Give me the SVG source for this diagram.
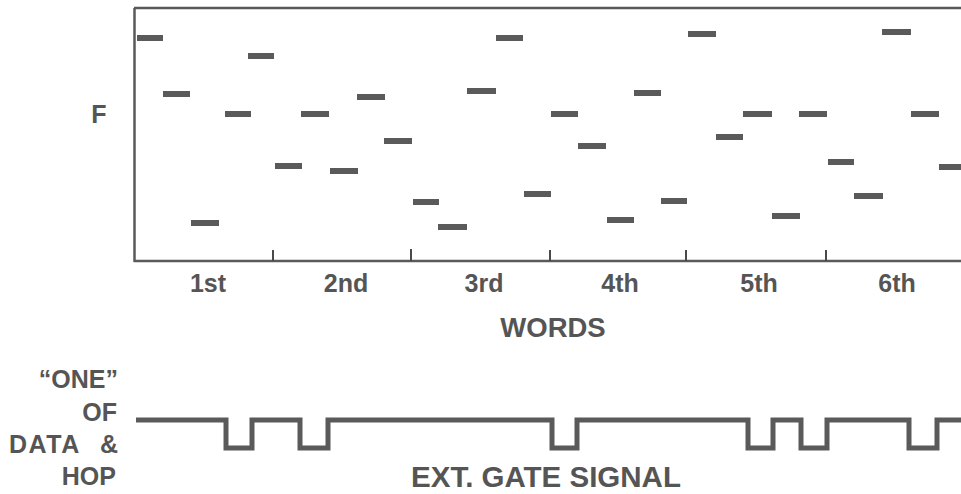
<svg xmlns="http://www.w3.org/2000/svg" width="961" height="494" viewBox="0 0 961 494">
<style>
.ax{stroke:#5a5a5a;stroke-width:2.5;fill:none}
.tk{stroke:#4a4a4a;stroke-width:2;fill:none}
.b{fill:#5a5a5a}
.t{font-family:"Liberation Sans",Arial,sans-serif;font-weight:bold;fill:#555;font-size:25px}
.sig{stroke:#5a5a5a;stroke-width:5;fill:none;stroke-linejoin:miter}
</style>
<rect width="961" height="494" fill="#fff"/>
<g id="frame">
<path class="ax" d="M134 8 H961 M134.5 8 V262 M134 261 H961"/>
<path class="tk" d="M273 250 V261 M411 249 V261 M550 250 V261 M686 250 V261 M826 250 V261"/>
</g>
<g id="bars">
<rect class="b" x="137" y="35" width="26" height="6"/>
<rect class="b" x="163" y="91" width="27" height="6"/>
<rect class="b" x="191" y="220" width="28" height="6"/>
<rect class="b" x="225" y="111" width="26" height="6"/>
<rect class="b" x="248" y="53" width="26" height="6"/>
<rect class="b" x="275" y="163" width="27" height="6"/>
<rect class="b" x="301" y="111" width="28" height="6"/>
<rect class="b" x="330" y="168" width="28" height="6"/>
<rect class="b" x="357" y="94" width="28" height="6"/>
<rect class="b" x="384" y="138" width="28" height="6"/>
<rect class="b" x="413" y="199" width="26" height="6"/>
<rect class="b" x="438" y="224" width="29" height="6"/>
<rect class="b" x="467" y="88" width="29" height="6"/>
<rect class="b" x="496" y="35" width="27" height="6"/>
<rect class="b" x="524" y="191" width="27" height="6"/>
<rect class="b" x="551" y="111" width="27" height="6"/>
<rect class="b" x="578" y="143" width="28" height="6"/>
<rect class="b" x="607" y="217" width="27" height="6"/>
<rect class="b" x="634" y="90" width="27" height="6"/>
<rect class="b" x="661" y="198" width="26" height="6"/>
<rect class="b" x="688" y="31" width="28" height="6"/>
<rect class="b" x="716" y="134" width="27" height="6"/>
<rect class="b" x="743" y="111" width="29" height="6"/>
<rect class="b" x="772" y="213" width="28" height="6"/>
<rect class="b" x="799" y="111" width="28" height="6"/>
<rect class="b" x="828" y="159" width="26" height="6"/>
<rect class="b" x="854" y="193" width="29" height="6"/>
<rect class="b" x="882" y="29" width="29" height="6"/>
<rect class="b" x="911" y="111" width="28" height="6"/>
<rect class="b" x="939" y="164" width="27" height="6"/>
</g>
<g id="labels">
<text class="t" x="99" y="123" text-anchor="middle">F</text>
<text class="t" x="208" y="292" text-anchor="middle">1st</text>
<text class="t" x="346" y="292" text-anchor="middle">2nd</text>
<text class="t" x="484" y="292" text-anchor="middle">3rd</text>
<text class="t" x="620" y="292" text-anchor="middle">4th</text>
<text class="t" x="759" y="292" text-anchor="middle">5th</text>
<text class="t" x="897" y="292" text-anchor="middle">6th</text>
<text class="t" x="553" y="337" style="font-size:27.5px" text-anchor="middle">WORDS</text>
<text class="t" x="118" y="388" text-anchor="end">“ONE”</text>
<text class="t" x="117" y="421" text-anchor="end">OF</text>
<text class="t" x="9" y="453"><tspan letter-spacing="1.5">DATA</tspan><tspan x="100">&amp;</tspan></text>
<text class="t" x="116" y="485" text-anchor="end">HOP</text>
<text class="t" x="546" y="487" style="font-size:29.5px" text-anchor="middle">EXT. GATE SIGNAL</text>
</g>
<g id="signal">
<path class="sig" d="M136 420 H226 V448 H252 V420 H300 V448 H328 V420 H552 V448 H577 V420 H748 V448 H773 V420 H801 V448 H827 V420 H909 V448 H937 V420 H961"/>
</g>
</svg>
